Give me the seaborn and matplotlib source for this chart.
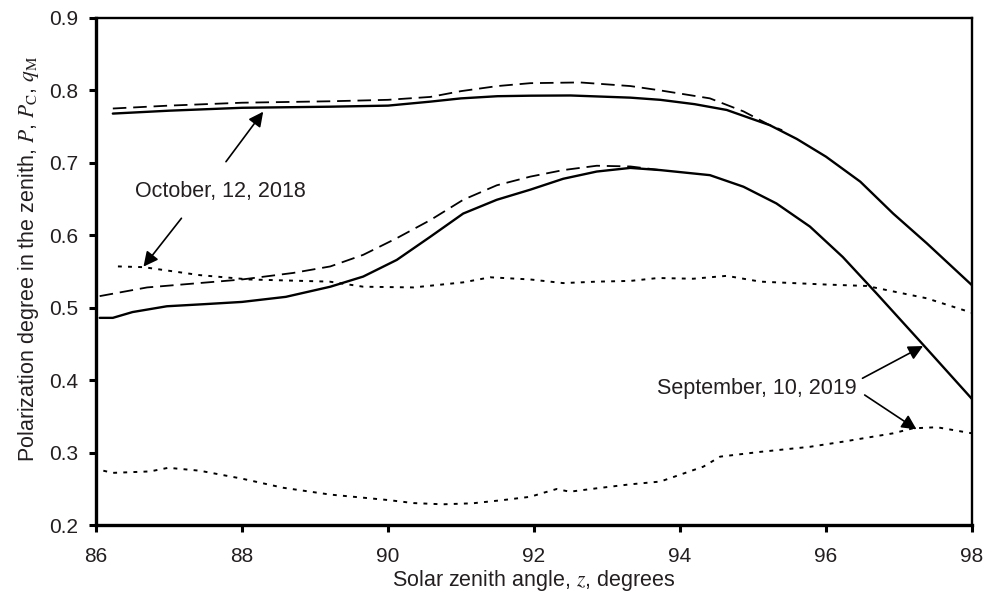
import matplotlib
matplotlib.use("Agg")
import matplotlib.pyplot as plt
import seaborn as sns
import pandas as pd

# ---- data ----
oct_P_x = [86.23, 87.0, 88.0, 89.2, 90.0, 90.58, 91.0, 91.5, 91.95, 92.5, 93.32, 93.73,
           94.2, 94.64, 95.23, 95.6, 96.0, 96.47, 96.92, 97.38, 98.0]
oct_P_y = [0.768, 0.772, 0.776, 0.7775, 0.779, 0.7845, 0.789, 0.792, 0.7927, 0.793, 0.790, 0.787,
           0.781, 0.773, 0.752, 0.733, 0.7085, 0.674, 0.630, 0.589, 0.531]

oct_Pc_x = [86.23, 87.0, 88.0, 89.21, 90.0, 90.58, 91.0, 91.5, 91.95, 92.63, 93.32, 93.73,
            94.41, 94.87, 95.23, 95.4]
oct_Pc_y = [0.775, 0.779, 0.783, 0.785, 0.787, 0.791, 0.799, 0.806, 0.810, 0.811, 0.806, 0.800,
            0.789, 0.771, 0.752, 0.745]

sep_P_x = [86.05, 86.23, 86.5, 86.97, 87.5, 88.0, 88.6, 89.21, 89.66, 90.12, 90.58, 91.03,
           91.49, 91.95, 92.4, 92.86, 93.32, 93.73, 94.41, 94.87, 95.32, 95.78, 96.23, 96.69,
           97.33, 98.0]
sep_P_y = [0.486, 0.486, 0.494, 0.502, 0.505, 0.508, 0.515, 0.529, 0.543, 0.566, 0.598, 0.630,
           0.649, 0.663, 0.678, 0.688, 0.693, 0.690, 0.683, 0.667, 0.644, 0.612, 0.570, 0.520,
           0.449, 0.374]

sep_Pc_x = [86.05, 86.7, 87.65, 88.0, 88.7, 89.21, 89.66, 90.12, 90.58, 91.03, 91.49, 91.95,
            92.4, 92.86, 93.32, 93.73]
sep_Pc_y = [0.516, 0.528, 0.536, 0.539, 0.548, 0.557, 0.573, 0.596, 0.621, 0.649, 0.669, 0.681,
            0.690, 0.696, 0.695, 0.690]

oct_q_x = [86.3, 86.65, 87.42, 88.1, 89.2, 89.66, 90.35, 91.03, 91.4, 91.95, 92.4, 92.86,
           93.32, 93.7, 94.18, 94.64, 95.1, 96.0, 96.56, 96.92, 97.38, 98.0]
oct_q_y = [0.557, 0.556, 0.545, 0.539, 0.536, 0.529, 0.528, 0.535, 0.542, 0.539, 0.534, 0.536,
           0.537, 0.541, 0.540, 0.544, 0.536, 0.532, 0.530, 0.5225, 0.513, 0.493]

sep_q_x = [86.1, 86.23, 86.74, 86.99, 87.42, 88.0, 88.56, 89.21, 90.0, 90.35, 90.75, 91.16,
           91.58, 91.95, 92.13, 92.31, 92.49, 92.86, 93.32, 93.73, 94.32, 94.55, 95.1, 95.78,
           96.23, 96.92, 97.19, 97.52, 98.0]
sep_q_y = [0.275, 0.272, 0.274, 0.279, 0.275, 0.264, 0.2515, 0.242, 0.2345, 0.2303, 0.2286, 0.230,
           0.2345, 0.239, 0.2445, 0.2497, 0.246, 0.2507, 0.2562, 0.260, 0.2806, 0.2944, 0.301, 0.308,
           0.315, 0.3266, 0.3335, 0.335, 0.3266]

x_ticks = [86, 88, 90, 92, 94, 96, 98]
y_ticks = [0.2, 0.3, 0.4, 0.5, 0.6, 0.7, 0.8, 0.9]

label_oct = "October, 12, 2018"
label_sep = "September, 10, 2019"

# ---- style ----
sns.set_style("ticks")
plt.rcParams['font.family'] = ['Liberation Sans', 'DejaVu Sans']
plt.rcParams['mathtext.fontset'] = 'stix'

fig = plt.figure(figsize=(9.89, 5.99), dpi=100)
ax = fig.add_axes([0.0971, 0.1235, 0.8857, 0.8465])

TXT = '#231f20'
solid = dict(color='black', lw=1.7, linestyle='-')
dashed = dict(color='black', lw=1.3, linestyle=(0, (7.5, 3.8)))
dotted = dict(color='black', lw=1.4, linestyle=(0, (2.0, 3.2)))

series = [
    (oct_Pc_x, oct_Pc_y, dashed),
    (sep_Pc_x, sep_Pc_y, dashed),
    (oct_P_x, oct_P_y, solid),
    (sep_P_x, sep_P_y, solid),
    (oct_q_x, oct_q_y, dotted),
    (sep_q_x, sep_q_y, dotted),
]
for xs, ys, st in series:
    df = pd.DataFrame({'z': xs, 'p': ys})
    sns.lineplot(data=df, x='z', y='p', ax=ax, estimator=None, sort=False, **st)

ax.set_xlim(86, 98)
ax.set_ylim(0.2, 0.9)
ax.set_xticks(x_ticks)
ax.set_xticklabels([str(t) for t in x_ticks])
ax.set_yticks(y_ticks)
ax.set_yticklabels([f"{t:.1f}" for t in y_ticks])

for side in ['left', 'bottom']:
    ax.spines[side].set_linewidth(2.4)
for side in ['top', 'right']:
    ax.spines[side].set_visible(True)
    ax.spines[side].set_linewidth(1.7)
for s in ax.spines.values():
    s.set_color('black')

ax.tick_params(axis='both', direction='out', length=5, width=2.2, colors='black',
               labelsize=15, labelcolor=TXT, top=False, right=False)
ax.tick_params(axis='x', pad=11)
ax.tick_params(axis='y', pad=8)

ax.set_xlabel("Solar zenith angle, $z$, degrees", fontsize=15.5, color=TXT, labelpad=1)
ax.set_ylabel(r"Polarization degree in the zenith, $P$, $P_\mathrm{C}$, $q_\mathrm{M}$",
              fontsize=15.5, color=TXT, labelpad=6)
ax.yaxis.set_label_coords(-0.063, 0.525)

# ---- annotations ----
ap = dict(arrowstyle='-|>', color='black', lw=1.2, mutation_scale=22, shrinkA=0, shrinkB=0)
ax.text(87.70, 0.660, label_oct, fontsize=15.5, color=TXT, ha='center', va='center')
ax.annotate('', xy=(88.29, 0.7706), xytext=(87.78, 0.7016), arrowprops=ap)
ax.annotate('', xy=(86.65, 0.5567), xytext=(87.17, 0.6235), arrowprops=ap)

ax.text(95.05, 0.389, label_sep, fontsize=15.5, color=TXT, ha='center', va='center')
ax.annotate('', xy=(97.33, 0.4471), xytext=(96.50, 0.4026), arrowprops=ap)
ax.annotate('', xy=(97.24, 0.3321), xytext=(96.53, 0.3795), arrowprops=ap)

fig.savefig("out.png", dpi=100)
